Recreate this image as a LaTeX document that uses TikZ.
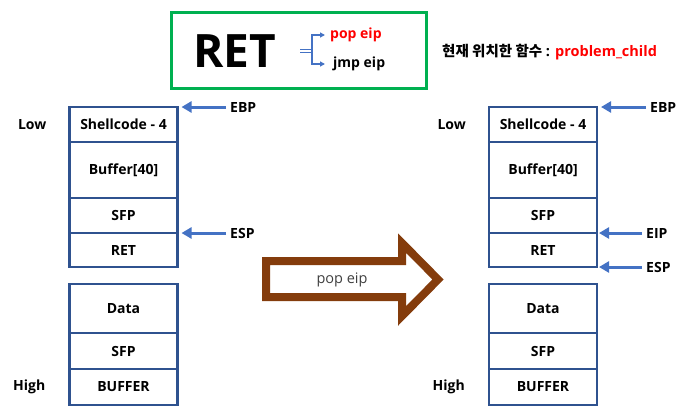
\documentclass[tikz,border=0pt]{standalone}
\usepackage{fontspec}
\setmainfont{Open Sans}
\newfontfamily\kor{Noto Sans CJK KR}
\usetikzlibrary{positioning,arrows.meta}
\definecolor{stackblue}{HTML}{2F528F}
\definecolor{ptrblue}{HTML}{4472C4}
\definecolor{framegreen}{HTML}{00B050}
\definecolor{popbrown}{HTML}{843C0C}

\begin{document}
\begin{tikzpicture}[x=1pt,y=-1pt,
  cell/.style={draw=stackblue, line width=2.6, minimum width=108, inner sep=0, outer sep=0, font=\bfseries\fontsize{14}{16}\selectfont},
  lbl/.style={inner sep=4, font=\bfseries\fontsize{14}{16}\selectfont},
  ptr/.style={ptrblue, line width=3, -{Triangle[length=10,width=11]}},
  brk/.style={ptrblue, line width=1.4}]
\useasboundingbox (0,0) rectangle (688,410);
% Instruction box
\draw[framegreen, line width=3] (171.5,12.5) rectangle (426.5,88.5);
\node[font=\bfseries\fontsize{46}{46}\selectfont] (ret) at (235,51) {RET};
\node[lbl, anchor=west, red] (popeip) at (326,35) {pop eip};
\node[lbl, anchor=west] (jmpeip) at (329,64) {jmp eip};
\coordinate (fork) at (312,51);
\draw[ptrblue, line width=1.2, double=white, double distance=1.4] (300,51) -- (fork);
\draw[brk, -{Triangle[length=5,width=5]}] (fork) |- ([xshift=-1]popeip.west);
\draw[brk, -{Triangle[length=5,width=5]}] (fork) |- ([xshift=-4]jmpeip.west);
\node[lbl, anchor=west, font=\bfseries\fontsize{14.5}{16}\selectfont] (func) at (438,52) {{\kor\bfseries 현재 위치한 함수} : \textcolor{red}{problem\_child}};
% Stacks (before / after)
\foreach \s/\x in {L/123.5, R/543} {
  \node[cell, minimum height=35] (\s shell) at (\x,124.5) {Shellcode - 4};
  \node[cell, minimum height=56, below=0pt of \s shell] (\s buf) {Buffer[40]};
  \node[cell, minimum height=35, below=0pt of \s buf] (\s sfp) {SFP};
  \node[cell, minimum height=34, below=0pt of \s sfp] (\s ret) {RET};
  \node[cell, minimum height=49] (\s data) at (\x,308.5) {Data};
  \node[cell, minimum height=36, below=0pt of \s data] (\s sfpb) {SFP};
  \node[cell, minimum height=36, below=0pt of \s sfpb] (\s bufb) {BUFFER};
  \node[lbl, left=19pt of \s shell] (\s low) {Low};
  \node[lbl, left=20pt of \s bufb] (\s high) {High};
}
% Pointers
\node[lbl, anchor=west] (LEBP) at (226,107) {EBP};
\node[lbl, anchor=west] (LESP) at (226,233) {ESP};
\draw[ptr] (LEBP.west) -- ([xshift=4]Lshell.north east);
\draw[ptr] (LESP.west) -- ([xshift=4]Lsfp.south east);
\node[lbl, anchor=west] (REBP) at (646,107) {EBP};
\node[lbl, anchor=west] (REIP) at (642,233) {EIP};
\node[lbl, anchor=west] (RESP) at (642,267) {ESP};
\draw[ptr] (REBP.west) -- ([xshift=4]Rshell.north east);
\draw[ptr] (REIP.west) -- ([xshift=2]Rsfp.south east);
\draw[ptr] (RESP.west) -- ([xshift=2]Rret.south east);
% Big arrow
\draw[popbrown, line width=8, miter limit=10, fill=white] (266,261) -- (402,261) -- (402,243) -- (438,279.5) -- (402,316) -- (402,297) -- (266,297) -- cycle;
\node[text=black!75, font=\fontsize{14.5}{16}\selectfont] (pop) at (342,280) {pop eip};
\end{tikzpicture}
\end{document}
